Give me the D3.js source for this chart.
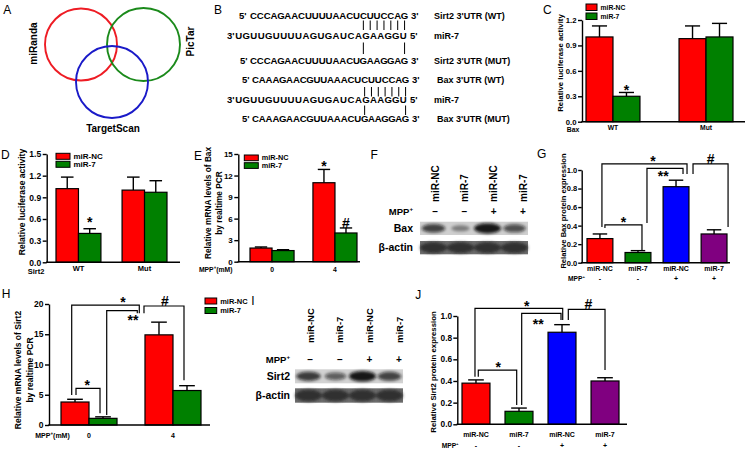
<!DOCTYPE html>
<html><head><meta charset="utf-8">
<script src="https://cdn.jsdelivr.net/npm/d3@7"></script>
<style>body{margin:0;background:#fff}svg{display:block}</style>
</head><body>
<svg id="chart" width="750" height="453"></svg>
<script>
// ================= DATA =================
const vennSets = ["miRanda", "PicTar", "TargetScan"];

const seqPrefix = ["5'", "3'", "5'", "5'", "3'", "5'"];
const seqStrings = ["CCCAGAACUUUUAACUCUUCCAG", "UGUUGUUUUAGUGAUCAGAAGGU", "CCCAGAACUUUUAACUGAAGGAG",
                    "CAAAGAACGUUAAACUCUUCCAG", "UGUUGUUUUAGUGAUCAGAAGGU", "CAAAGAACGUUAAACUGAAGGAG"];
const seqSuffix = ["3'", "5'", "3'", "3'", "5'", "3'"];
const seqNames = ["Sirt2 3'UTR (WT)", "miR-7", "Sirt2 3'UTR (MUT)", "Bax 3'UTR (WT)", "miR-7", "Bax 3'UTR (MUT)"];
const pairRefLine = [0, 2, 3, 5];
const pairIdx = [[16, 17, 18, 19, 20, 21, 22], [16, 22], [16, 17, 18, 19, 20, 21, 22], [16, 22]];

const seriesNames = ["miR-NC", "miR-7"];
const lucGroups = ["WT", "Mut"];
const baxLucNC = [1.00, 0.98];
const baxLucNCErr = [0.13, 0.15];
const baxLuc7 = [0.30, 1.00];
const baxLuc7Err = [0.045, 0.16];
const baxLucTicks = [0, 0.3, 0.6, 0.9, 1.2];

const sirtLucNC = [1.02, 1.00];
const sirtLucNCErr = [0.16, 0.18];
const sirtLuc7 = [0.40, 0.97];
const sirtLuc7Err = [0.065, 0.16];
const sirtLucTicks = [0, 0.3, 0.6, 0.9, 1.2, 1.5];

const mppDoses = ["0", "4"];
const baxMrnaNC = [1.9, 11.0];
const baxMrnaNCErr = [0.15, 1.85];
const baxMrna7 = [1.55, 4.0];
const baxMrna7Err = [0.12, 0.7];
const baxMrnaTicks = [0, 3, 6, 9, 12, 15];

const laneNames = ["miR-NC", "miR-7", "miR-NC", "miR-7"];
const laneMPP = ["-", "-", "+", "+"];
const baxBlot = [0.7, 0.22, 1.0, 0.6];
const actinBlotF = [0.95, 0.95, 0.95, 0.95];
const sirt2Blot = [0.75, 0.5, 1.0, 0.7];
const actinBlotI = [0.95, 0.95, 0.95, 0.95];

const baxProt = [0.26, 0.11, 0.82, 0.31];
const baxProtErr = [0.05, 0.02, 0.07, 0.045];
const protTicks = [0, 0.2, 0.4, 0.6, 0.8, 1.0];

const sirtMrnaNC = [3.8, 14.9];
const sirtMrnaNCErr = [0.45, 2.1];
const sirtMrna7 = [1.1, 5.7];
const sirtMrna7Err = [0.25, 0.8];
const sirtMrnaTicks = [0, 5, 10, 15, 20];

const sirtProt = [0.38, 0.12, 0.85, 0.40];
const sirtProtErr = [0.03, 0.03, 0.07, 0.03];

// significance brackets (levels in data units)
const baxProtBrackets = [
  {a: 0, b: 1, level: 0.407, ya: 0.374, yb: 0.137, label: "*"},
  {a: 0, b: 2, level: 1.065, ya: 0.385, yb: 0.957, label: "*"},
  {a: 1, b: 2, level: 1.018, ya: 0.428, yb: 0.957, label: "**"},
  {a: 2, b: 3, level: 1.065, ya: 0.957, yb: 0.385, label: "#"}
];
const sirtMrnaBrackets = [
  {a: "0|miR-NC", b: "0|miR-7", level: 6.07, ya: 4.96, yb: 1.93, label: "*"},
  {a: "0|miR-NC", b: "4|miR-NC", level: 19.83, ya: 4.96, yb: 18.46, label: "*"},
  {a: "0|miR-7", b: "4|miR-NC", level: 18.9, ya: 1.65, yb: 18.46, label: "**"},
  {a: "4|miR-NC", b: "4|miR-7", level: 19.67, ya: 18.46, yb: 7.4, label: "#"}
];
const sirtProtBrackets = [
  {a: 0, b: 1, level: 0.501, ya: 0.44, yb: 0.178, label: "*"},
  {a: 0, b: 2, level: 1.071, ya: 0.44, yb: 0.963, label: "*"},
  {a: 1, b: 2, level: 1.025, ya: 0.178, yb: 0.963, label: "**"},
  {a: 2, b: 3, level: 1.062, ya: 0.963, yb: 0.501, label: "#"}
];

// ================= STYLE / LAYOUT =================
const FONT = "'Liberation Sans', Arial, Helvetica, sans-serif";
const RED = "#ff0000", GREEN = "#008000", BLUE = "#0000ff", PURPLE = "#800080";
const svg = d3.select("#chart").attr("font-family", FONT);
svg.append("rect").attr("width", 750).attr("height", 453).attr("fill", "#fff");
const defs = svg.append("defs");
defs.append("filter").attr("id", "blur").attr("x", "-60%").attr("y", "-60%").attr("width", "220%").attr("height", "220%")
  .append("feGaussianBlur").attr("stdDeviation", 1.5);

function txt(g, x, y, s, o = {}) {
  const t = g.append("text").attr("x", x).attr("y", y).text(s)
    .attr("font-size", o.fs || 8).attr("font-weight", o.fw || "bold")
    .attr("text-anchor", o.anchor || "start").attr("fill", o.fill || "#000");
  if (o.rot) t.attr("transform", `rotate(${o.rot},${x},${y})`);
  return t;
}
function mppText(g, x, y, fs, suffix, anchor) {
  const t = g.append("text").attr("x", x).attr("y", y).attr("font-size", fs)
    .attr("font-weight", "bold").attr("text-anchor", anchor || "start");
  t.append("tspan").text("MPP");
  t.append("tspan").text("+").attr("font-size", fs * 0.65).attr("dy", -fs * 0.4);
  if (suffix) t.append("tspan").text(suffix).attr("dy", fs * 0.4);
  return t;
}
function sigLabel(g, cx, cy, s, fs = 14) {
  const off = s.startsWith("*") ? 0.55 : 0.36;
  txt(g, cx, cy + off * fs, s, {fs, anchor: "middle"});
}

// panel letters
const panelLetters = [["A", 3.3, 13.6], ["B", 214, 13.6], ["C", 543, 13.6], ["D", 1, 159.3], ["E", 194, 160.3],
  ["F", 370.5, 159.3], ["G", 537, 158.3], ["H", 1.7, 297.6], ["I", 251.3, 305.3], ["J", 415.3, 299.3]];
panelLetters.forEach(([t, x, y]) => txt(svg, x, y, t, {fs: 12, fw: "normal"}));

// ================= A: Venn =================
const vennLayout = {
  miRanda: {cx: 81, cy: 44.5, r: 36, color: "#ee1c24", lx: 37, ly: 43.5, rot: -90},
  PicTar: {cx: 143.5, cy: 44.5, r: 36.5, color: "#1b8a1b", lx: 193.6, ly: 41.5, rot: -90},
  TargetScan: {cx: 112, cy: 82, r: 36, color: "#1a1ac8", lx: 113, ly: 131.5, rot: 0}
};
const gA = svg.append("g");
gA.selectAll("circle").data(vennSets).join("circle")
  .attr("cx", d => vennLayout[d].cx).attr("cy", d => vennLayout[d].cy).attr("r", d => vennLayout[d].r)
  .attr("fill", "none").attr("stroke", d => vennLayout[d].color).attr("stroke-width", 1.9);
vennSets.forEach(d => { const L = vennLayout[d]; txt(gA, L.lx, L.ly, d, {fs: 10, anchor: "middle", rot: L.rot}); });

// ================= B: sequences =================
const seqLayout = [
  {p5x: 239, s0: 250, s1: 408, y: 18.5, lx: 434},
  {p5x: 227, s0: 235, s1: 407, y: 38.5, lx: 434},
  {p5x: 240, s0: 250, s1: 408, y: 64.3, lx: 434},
  {p5x: 242, s0: 252, s1: 409, y: 83.3, lx: 437},
  {p5x: 227, s0: 235, s1: 407, y: 103.3, lx: 434},
  {p5x: 242, s0: 252, s1: 409, y: 121.8, lx: 437}
];
const pairY = [[20.5, 30], [42.5, 54], [87, 96.5], [105.5, 115]];
const gB = svg.append("g");
const letterScales = seqStrings.map((s, i) => d3.scaleBand().domain(d3.range(s.length)).range([seqLayout[i].s0, seqLayout[i].s1]));
seqStrings.forEach((s, i) => {
  const L = seqLayout[i], xs = letterScales[i];
  txt(gB, L.p5x, L.y, seqPrefix[i], {fs: 9.5});
  gB.append("g").selectAll("text").data(s.split("")).join("text")
    .attr("x", (d, j) => xs(j) + xs.bandwidth() / 2).attr("y", L.y).attr("text-anchor", "middle")
    .attr("font-size", 9.6).attr("font-weight", "bold").text(d => d);
  txt(gB, L.s1 + 3, L.y, seqSuffix[i], {fs: 9.5});
  txt(gB, L.lx, L.y, seqNames[i], {fs: 9});
});
pairIdx.forEach((idx, p) => {
  const xs = letterScales[pairRefLine[p]];
  gB.append("g").selectAll("line").data(idx).join("line")
    .attr("x1", d => xs(d) + xs.bandwidth() / 2).attr("x2", d => xs(d) + xs.bandwidth() / 2)
    .attr("y1", pairY[p][0]).attr("y2", pairY[p][1]).attr("stroke", "#000").attr("stroke-width", 1);
});

// ================= generic bar panel =================
function drawYAxis(g, y, o) {
  const ax = d3.axisLeft(y).tickValues(o.ticks).tickFormat(o.fmt).tickSizeInner(o.tickLen || 4).tickSizeOuter(0)
    .tickPadding(o.tickPad == null ? 1.5 : o.tickPad);
  const a = g.append("g").attr("transform", `translate(${o.axisX},0)`).call(ax)
    .attr("font-family", FONT).attr("font-size", o.tickFs).attr("font-weight", "bold");
  a.select(".domain").attr("stroke", "#000").attr("stroke-width", 1.4);
  a.selectAll(".tick line").attr("stroke", "#000").attr("stroke-width", 1.4);
  a.selectAll(".tick text").attr("fill", "#000");
  g.append("line").attr("x1", o.axisX - 0.7).attr("x2", o.axisRight).attr("y1", y(0)).attr("y2", y(0))
    .attr("stroke", "#000").attr("stroke-width", 1.4);
  o.title.forEach((t, i) => txt(g, o.titleX[i], o.titleY, t, {fs: o.titleFs, anchor: "middle", rot: -90}));
}
function drawBars(g, bars, y) {
  g.append("g").selectAll("rect").data(bars).join("rect")
    .attr("x", d => d.x).attr("width", d => d.w).attr("y", d => y(d.v)).attr("height", d => y(0) - y(d.v))
    .attr("fill", d => d.color).attr("stroke", "#000").attr("stroke-width", 1.2);
  const eb = g.append("g").attr("stroke", "#000").attr("stroke-width", 1.4);
  eb.selectAll("line.v").data(bars).join("line").attr("class", "v")
    .attr("x1", d => d.x + d.w / 2).attr("x2", d => d.x + d.w / 2).attr("y1", d => y(d.v)).attr("y2", d => y(d.v + d.e));
  eb.selectAll("line.c").data(bars).join("line").attr("class", "c")
    .attr("x1", d => d.x + d.w * 0.22).attr("x2", d => d.x + d.w * 0.78).attr("y1", d => y(d.v + d.e)).attr("y2", d => y(d.v + d.e));
}
function legend(g, o) {
  const colors = [RED, GREEN];
  seriesNames.forEach((s, i) => {
    const yy = o.ly + i * o.step;
    g.append("rect").attr("x", o.lx).attr("y", yy).attr("width", o.lw).attr("height", o.lh)
      .attr("fill", colors[i]).attr("stroke", "#000").attr("stroke-width", 1);
    txt(g, o.lx + o.lw + 3.5, yy + o.lh / 2 + o.legFs * 0.36, s, {fs: o.legFs});
  });
}
function groupedPanel(o) {
  const g = svg.append("g");
  const y = d3.scaleLinear().domain(o.domain).range(o.yRange);
  const xg = d3.scaleBand().domain(o.groups).range(o.barRange).paddingInner(o.pad);
  const xs = d3.scaleBand().domain(seriesNames).range([0, xg.bandwidth()]);
  const colors = [RED, GREEN];
  const bars = [];
  o.groups.forEach((grp, i) => seriesNames.forEach((s, k) => bars.push({
    key: grp + "|" + s, v: o.values[k][i], e: o.errors[k][i], color: colors[k], x: xg(grp) + xs(s), w: xs.bandwidth()})));
  drawBars(g, bars, y);
  drawYAxis(g, y, o);
  o.groups.forEach(grp => txt(g, xg(grp) + xg.bandwidth() / 2, o.xLabY, grp, {fs: o.xFs, anchor: "middle"}));
  if (o.prefix === "MPP") mppText(g, o.prefixX, o.xLabY, o.xFs, "(mM)", "middle");
  else txt(g, o.prefixX, o.prefixY || o.xLabY, o.prefix, {fs: o.xFs, anchor: "middle"});
  legend(g, o);
  const center = {};
  bars.forEach(b => center[b.key] = b.x + b.w / 2);
  (o.marks || []).forEach(m => {
    const b = bars.find(d => d.key === m.key);
    sigLabel(g, b.x + b.w / 2, y(b.v + b.e) - m.gap, m.label);
  });
  return {g, y, center};
}
function singlePanel(o) {
  const g = svg.append("g");
  const y = d3.scaleLinear().domain(o.domain).range(o.yRange);
  const x = d3.scaleBand().domain(d3.range(o.values.length)).range(o.barRange).paddingInner(o.pad);
  const colors = [RED, GREEN, BLUE, PURPLE];
  const bars = o.values.map((v, i) => ({key: i, v, e: o.errors[i], color: colors[i], x: x(i), w: x.bandwidth()}));
  drawBars(g, bars, y);
  drawYAxis(g, y, o);
  laneNames.forEach((n, i) => txt(g, x(i) + x.bandwidth() / 2, o.xLabY, n, {fs: o.xFs, anchor: "middle"}));
  mppText(g, o.mppX, o.mppY, o.xFs * 0.95, null, "start");
  laneMPP.forEach((n, i) => txt(g, x(i) + x.bandwidth() / 2, o.mppY, n, {fs: o.xFs, anchor: "middle"}));
  const center = {};
  bars.forEach(b => center[b.key] = b.x + b.w / 2);
  return {g, y, center};
}
function brackets(P, list, offs, lx) {
  list.forEach((b, i) => {
    const xa = P.center[b.a] + offs[i][0], xb = P.center[b.b] + offs[i][1], yl = P.y(b.level);
    P.g.append("path").attr("d", `M${xa},${P.y(b.ya)}V${yl}H${xb}V${P.y(b.yb)}`)
      .attr("fill", "none").attr("stroke", "#000").attr("stroke-width", 1.2);
    const below = b.label === "**";
    sigLabel(P.g, xa + (xb - xa) * lx[i], below ? yl + (P.belowGap || 6) : yl - 5.5, b.label);
  });
}

// ================= C =================
groupedPanel({
  groups: lucGroups, values: [baxLucNC, baxLuc7], errors: [baxLucNCErr, baxLuc7Err],
  domain: [0, 1.2], yRange: [121.7, 20], barRange: [586, 733], pad: 0.42,
  axisX: 582, axisRight: 745, ticks: baxLucTicks, fmt: d3.format(".1f"), tickFs: 7.7,
  title: ["Relative luciferase activity"], titleX: [563], titleY: 63, titleFs: 7.8,
  xLabY: 130, xFs: 6.8, prefix: "Bax", prefixX: 573, prefixY: 132,
  lx: 586, ly: 4, lw: 11, lh: 6.5, step: 9, legFs: 6.8,
  marks: [{key: "WT|miR-7", label: "*", gap: 5}]
});
// ================= D =================
groupedPanel({
  groups: lucGroups, values: [sirtLucNC, sirtLuc7], errors: [sirtLucNCErr, sirtLuc7Err],
  domain: [0, 1.5], yRange: [262.3, 154], barRange: [56, 167], pad: 0.32,
  axisX: 46.7, axisRight: 180, ticks: sirtLucTicks, fmt: d3.format(".1f"), tickFs: 8.5,
  title: ["Relative luciferase activity"], titleX: [25], titleY: 202, titleFs: 8.5,
  xLabY: 271, xFs: 7.5, prefix: "Sirt2", prefixX: 36, prefixY: 273.5,
  lx: 56, ly: 153.3, lw: 14, lh: 6, step: 8, legFs: 8,
  marks: [{key: "WT|miR-7", label: "*", gap: 9}]
});
// ================= E =================
groupedPanel({
  groups: mppDoses, values: [baxMrnaNC, baxMrna7], errors: [baxMrnaNCErr, baxMrna7Err],
  domain: [0, 15], yRange: [261.7, 154], barRange: [250, 357], pad: 0.30,
  axisX: 238.3, axisRight: 360, ticks: baxMrnaTicks, fmt: d3.format("d"), tickFs: 8,
  title: ["Relative mRNA levels of Bax", "by realtime PCR"], titleX: [211, 221.5], titleY: 203, titleFs: 8.3,
  xLabY: 272, xFs: 6.8, prefix: "MPP", prefixX: 215.7,
  lx: 244.3, ly: 155, lw: 14, lh: 5.7, step: 7.7, legFs: 7.3,
  marks: [{key: "4|miR-NC", label: "*", gap: 6}, {key: "4|miR-7", label: "#", gap: 5}]
});
// ================= H =================
const PH = groupedPanel({
  groups: mppDoses, values: [sirtMrnaNC, sirtMrna7], errors: [sirtMrnaNCErr, sirtMrna7Err],
  domain: [0, 20], yRange: [425, 304], barRange: [61, 201], pad: 0.333,
  axisX: 49, axisRight: 210, ticks: sirtMrnaTicks, fmt: d3.format("d"), tickFs: 8.5,
  title: ["Relative mRNA levels of Sirt2", "by realtime PCR"], titleX: [20.5, 33], titleY: 370, titleFs: 8.5,
  xLabY: 438, xFs: 7, prefix: "MPP", prefixX: 52.5,
  lx: 205, ly: 298, lw: 11.7, lh: 6, step: 9.5, legFs: 7.5
});
PH.belowGap = 7;
brackets(PH, sirtMrnaBrackets, [[1, -3], [-3.3, -19.7], [3.7, -21.7], [-15, -3]], [0.47, 0.76, 0.86, 0.52]);

// ================= G =================
const PG = singlePanel({
  values: baxProt, errors: baxProtErr,
  domain: [0, 1], yRange: [262.7, 170], barRange: [587, 727], pad: 0.32,
  axisX: 581.7, axisRight: 730, ticks: protTicks, fmt: d3.format(".1f"), tickFs: 7.5, tickLen: 3.5, tickPad: 1,
  title: ["Relative Bax protein expression"], titleX: [565.5], titleY: 211, titleFs: 7.6,
  xLabY: 270.5, xFs: 7, mppX: 568, mppY: 281
});
PG.belowGap = 5;
brackets(PG, baxProtBrackets, [[5, 4], [2, 11], [9, 7], [17, 14]], [0.5, 0.6, 0.45, 0.5]);

// ================= J =================
const PJ = singlePanel({
  values: sirtProt, errors: sirtProtErr,
  domain: [0, 1], yRange: [424.3, 316], barRange: [462, 619], pad: 0.35,
  axisX: 457.3, axisRight: 627, ticks: protTicks, fmt: d3.format(".1f"), tickFs: 8.3, tickPad: 1.2,
  title: ["Relative Sirt2 protein expression"], titleX: [435.5], titleY: 372, titleFs: 7.8,
  xLabY: 437, xFs: 7, mppX: 441.7, mppY: 447.5
});
PJ.belowGap = 8;
brackets(PJ, sirtProtBrackets, [[2.3, -2.3], [-1, 0.7], [2.7, -1], [6.3, 0]], [0.52, 0.59, 0.42, 0.545]);

// ================= blots F & I =================
function blotPanel(o) {
  const g = svg.append("g");
  const lanes = d3.scaleBand().domain(d3.range(4)).range(o.blotRange);
  const labX = d3.scalePoint().domain(d3.range(4)).range(o.labRange);
  laneNames.forEach((n, i) => txt(g, labX(i) + 3.5, o.nameBottom, n, {fs: o.nameFs, rot: -90}));
  mppText(g, o.labelRight, o.mppY, 9.5, null, "end");
  laneMPP.forEach((s, i) => txt(g, labX(i), o.mppY, s === "-" ? "\u2013" : "+", {fs: 10, anchor: "middle"}));
  o.rows.forEach(r => {
    txt(g, o.labelRight, r.y + r.h / 2 + 3.7, r.name, {fs: 10.5, anchor: "end"});
    g.append("rect").attr("x", o.blotRange[0]).attr("y", r.y).attr("width", o.blotRange[1] - o.blotRange[0])
      .attr("height", r.h).attr("fill", r.bg);
    g.append("g").attr("filter", "url(#blur)").selectAll("ellipse").data(r.values).join("ellipse")
      .attr("cx", (d, i) => lanes(i) + lanes.bandwidth() / 2).attr("cy", r.y + r.h / 2)
      .attr("rx", d => lanes.bandwidth() * (r.actin ? 0.5 : 0.3 + 0.2 * d))
      .attr("ry", d => r.h * (r.actin ? 0.42 : 0.18 + 0.2 * d))
      .attr("fill", r.actin ? "#262626" : "#0d0d0d").attr("opacity", d => r.actin ? 0.85 : 0.25 + 0.7 * d);
  });
}
blotPanel({
  blotRange: [420, 528], labRange: [435, 523], nameBottom: 202, nameFs: 10, labelRight: 413, mppY: 214.5,
  rows: [{name: "Bax", y: 221.7, h: 13.3, values: baxBlot, bg: "#cfcfcf"},
         {name: "\u03b2-actin", y: 241, h: 13.3, values: actinBlotF, bg: "#6e6e6e", actin: true}]
});
blotPanel({
  blotRange: [295, 403], labRange: [310, 399], nameBottom: 343, nameFs: 9.5, labelRight: 290, mppY: 362.5,
  rows: [{name: "Sirt2", y: 369.3, h: 14, values: sirt2Blot, bg: "#d2d2d2"},
         {name: "\u03b2-actin", y: 388.3, h: 14.4, values: actinBlotI, bg: "#6e6e6e", actin: true}]
});
</script>
</body></html>
